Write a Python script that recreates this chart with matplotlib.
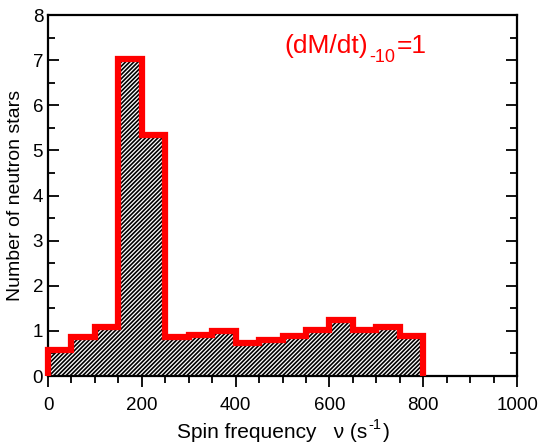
import numpy as np
import matplotlib
matplotlib.use("Agg")
from matplotlib import pyplot as plt
from matplotlib.ticker import MultipleLocator

# Histogram of spin frequencies, bins of 50 s^-1
bin_edges = np.arange(0, 850, 50)
counts = [0.57, 0.86, 1.08, 7.02, 5.35, 0.87, 0.91, 0.99,
          0.74, 0.79, 0.88, 1.02, 1.25, 1.02, 1.08, 0.89]

x_ticks = [0, 200, 400, 600, 800, 1000]
y_ticks = [0, 1, 2, 3, 4, 5, 6, 7, 8]

plt.rcParams['font.family'] = ['Liberation Sans', 'DejaVu Sans']
plt.rcParams['hatch.color'] = 'black'
plt.rcParams['hatch.linewidth'] = 1.2

fig = plt.figure(figsize=(5.42, 4.48), dpi=100)
ax = fig.add_axes([0.0886, 0.1607, 0.8654, 0.8058])

# hatched fill
ax.bar(bin_edges[:-1], counts, width=50, align='edge', color='white',
       edgecolor='black', hatch='////////', linewidth=0)

# red outline
ax.stairs(counts, bin_edges, baseline=0, color='red', linewidth=4.5,
          clip_on=False, zorder=3)


def label_with_index(x, y, main, idx, tail, size, idx_size, shift, color):
    # main text, then a shifted small index, then the rest on the main line
    t1 = fig.text(x, y, main, fontsize=size, color=color, ha='left', va='baseline')
    t2 = fig.add_artist(plt.Annotation(idx, xy=(1, 0), xycoords=t1, xytext=(1, shift),
                                       textcoords='offset points', fontsize=idx_size,
                                       color=color, ha='left', va='bottom'))
    fig.add_artist(plt.Annotation(tail, xy=(1, 0), xycoords=(t2, t1), xytext=(1, 0),
                                  textcoords='offset points', fontsize=size, color=color,
                                  ha='left', va='bottom'))


# annotation (dM/dt)_-10 = 1
label_with_index(0.524, 0.882, '(dM/dt)', '-10', '=1', 19, 13, -6, 'red')

ax.set_xlim(0, 1000)
ax.set_ylim(0, 8)
ax.set_xticks(x_ticks)
ax.set_yticks(y_ticks)
ax.xaxis.set_minor_locator(MultipleLocator(50))
ax.yaxis.set_minor_locator(MultipleLocator(0.5))

ax.tick_params(axis='x', which='both', direction='out', top=False, labelsize=13.5, width=1.3)
ax.tick_params(axis='x', which='major', pad=7)
ax.tick_params(axis='y', which='both', direction='in', right=True, labelsize=13.5, width=1.3)
ax.tick_params(which='major', length=8)
ax.tick_params(which='minor', length=5)
for s in ax.spines.values():
    s.set_linewidth(1.6)

# x label with raised exponent
label_with_index(0.326, 0.022, 'Spin frequency   \u03bd (s', '-1', ')', 15, 10.5, 7, 'black')

ax.set_ylabel('Number of neutron stars', fontsize=14, labelpad=6)

fig.savefig('out.png', dpi=100)
